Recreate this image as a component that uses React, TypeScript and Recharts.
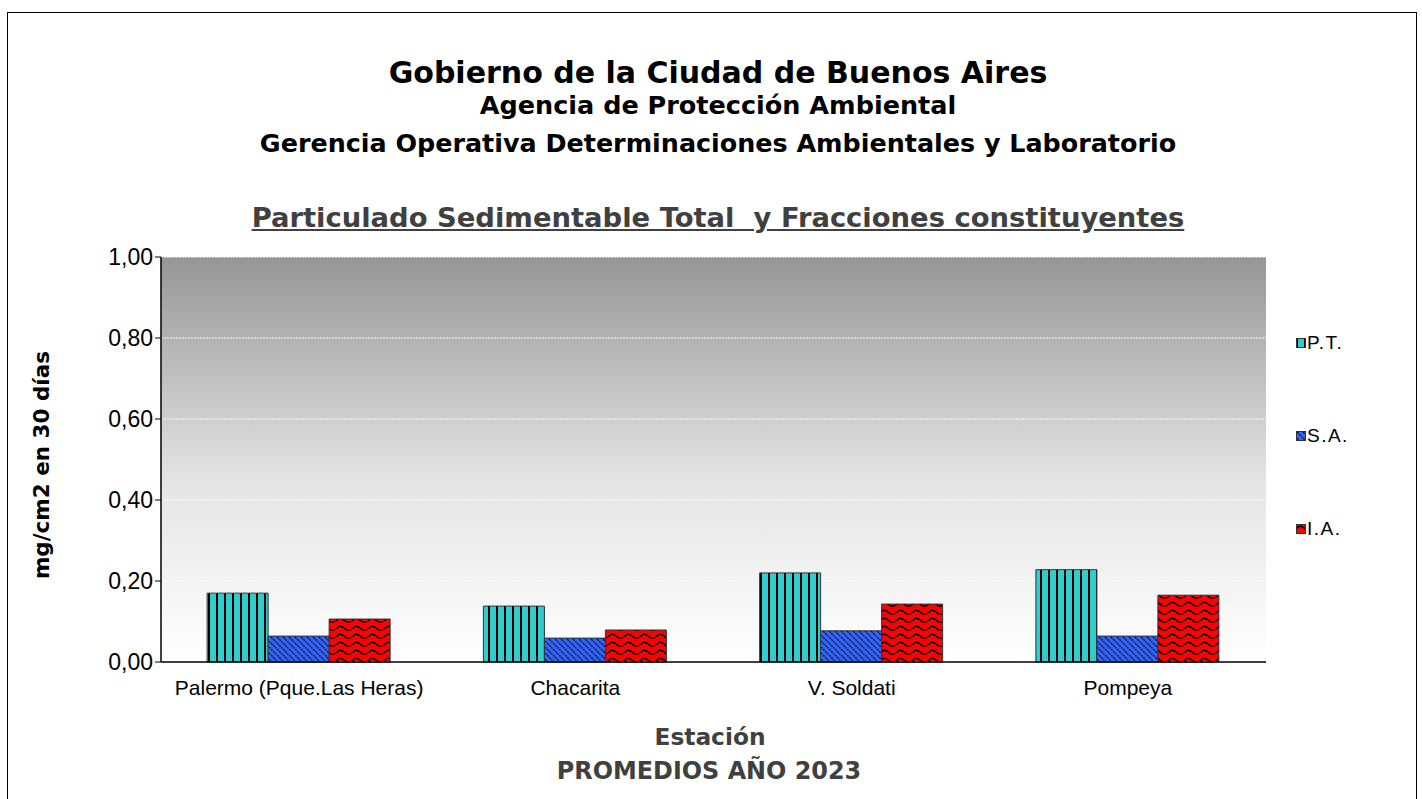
import { Bar, BarChart, CartesianGrid, XAxis, YAxis } from "recharts"

const estaciones = ["Palermo (Pque.Las Heras)", "Chacarita", "V. Soldati", "Pompeya"]
const pt = [0.17, 0.138, 0.22, 0.228]
const sa = [0.064, 0.059, 0.077, 0.064]
const ia = [0.106, 0.079, 0.143, 0.165]
const yTicks = [0, 0.2, 0.4, 0.6, 0.8, 1.0]
const series = [
  { key: "pt", label: "P.T.", fill: "url(#patPT)" },
  { key: "sa", label: "S.A.", fill: "url(#patSA)" },
  { key: "ia", label: "I.A.", fill: "url(#patIA)" },
]

const data = estaciones.map((name, i) => ({ name, pt: pt[i], sa: sa[i], ia: ia[i] }))

const font = "'Liberation Sans', Arial, sans-serif"
const titleFont = "'DejaVu Sans', Verdana, sans-serif"
const fmt = (v: number) => v.toFixed(2).replace(".", ",")

// title lines: text, centre y, size, colour
const titles = [
  { text: "Gobierno de la Ciudad de Buenos Aires", y: 73, size: 30, color: "#000", cx: 718 },
  { text: "Agencia de Protección Ambiental", y: 105, size: 25.5, color: "#000", cx: 718 },
  { text: "Gerencia Operativa Determinaciones Ambientales y Laboratorio", y: 143, size: 25.4, color: "#000", cx: 718 },
  { text: "Particulado Sedimentable Total\u00a0 y Fracciones constituyentes", y: 218, size: 27.4, color: "#404040", cx: 718, underline: true },
  { text: "Estación", y: 737, size: 23.3, color: "#404040", cx: 710 },
  { text: "PROMEDIOS AÑO 2023", y: 771, size: 23.9, color: "#404040", cx: 709 },
]

function Patterns() {
  return (
    <svg width={0} height={0} style={{ position: "absolute" }}>
      <defs>
        <linearGradient id="bgGrad" x1="0" y1="0" x2="0" y2="1">
          <stop offset="0%" stopColor="#969696" />
          <stop offset="55%" stopColor="#e4e4e4" />
          <stop offset="100%" stopColor="#ffffff" />
        </linearGradient>
        <pattern id="patPT" width={8} height={8} patternUnits="userSpaceOnUse">
          <rect width={8} height={8} fill="#33cccc" />
          <rect x={0} width={2} height={8} fill="#000" />
        </pattern>
        <pattern id="patSA" width={6} height={6} patternUnits="userSpaceOnUse">
          <rect width={6} height={6} fill="#3366ff" />
          <path d="M-1,-1 L7,7 M-1,5 L1,7 M5,-1 L7,1" stroke="#000" strokeWidth={1.3} strokeDasharray="2 1" />
        </pattern>
        <pattern id="patIA" width={16} height={8} patternUnits="userSpaceOnUse">
          <rect width={16} height={8} fill="#ff0000" />
          <path d="M0,5 Q4,0 8,4 T16,5" stroke="#000" strokeWidth={1.4} fill="none" />
        </pattern>
      </defs>
    </svg>
  )
}

export default function App() {
  return (
    <div style={{ position: "absolute", left: 0, top: 0, width: 1422, height: 799, background: "#fff", fontFamily: font, overflow: "hidden" }}>
      <Patterns />
      <div style={{ position: "absolute", left: 7, top: 12, width: 1410, height: 800, border: "1.5px solid #000", boxSizing: "border-box" }} />
      {titles.map((t) => (
        <div
          key={t.text}
          style={{
            position: "absolute",
            left: t.cx - 700,
            width: 1400,
            top: t.y - 20,
            lineHeight: "40px",
            textAlign: "center",
            fontFamily: titleFont,
            fontWeight: "bold",
            fontSize: t.size,
            color: t.color,
            whiteSpace: "nowrap",
            textDecoration: t.underline ? "underline" : "none",
          }}
        >
          {t.text}
        </div>
      ))}
      <div style={{ position: "absolute", left: 0, top: 0 }}>
        <BarChart
          width={1422}
          height={799}
          data={data}
          margin={{ top: 257, left: 91, right: 156, bottom: 107 }}
          barCategoryGap="16.7%"
          barGap={0}
        >
          <CartesianGrid vertical={false} fill="url(#bgGrad)" stroke="#ffffff" strokeDasharray="2 1" fillOpacity={1} />
          <XAxis
            dataKey="name"
            height={30}
            tickLine={false}
            axisLine={{ stroke: "#000", strokeWidth: 1.5 }}
            tick={{ fill: "#000", fontSize: 21, fontFamily: font }}
            tickMargin={12}
            interval={0}
          />
          <YAxis
            width={70}
            domain={[0, 1]}
            ticks={yTicks}
            tickFormatter={fmt}
            axisLine={{ stroke: "#000", strokeWidth: 1.5 }}
            tickLine={{ stroke: "#000" }}
            tickSize={6}
            tick={{ fill: "#000", fontSize: 23, fontFamily: font }}
          />
          {series.map((s) => (
            <Bar key={s.key} dataKey={s.key} fill={s.fill} stroke="#333" strokeWidth={1} isAnimationActive={false} />
          ))}
        </BarChart>
      </div>
      <div
        style={{
          position: "absolute",
          left: 41,
          top: 465,
          transform: "translate(-50%, -50%) rotate(-90deg)",
          whiteSpace: "nowrap",
          fontFamily: titleFont,
          fontWeight: "bold",
          fontSize: 21.5,
          color: "#000",
        }}
      >
        mg/cm2 en 30 días
      </div>
      {series.map((s, i) => (
        <div key={s.key} style={{ position: "absolute", left: 1296, top: 332 + i * 93, display: "flex", alignItems: "center", fontSize: 19, letterSpacing: 1.5, color: "#000" }}>
          <svg width={10} height={10} style={{ marginRight: 1 }}>
            <rect x={0.5} y={0.5} width={9} height={9} fill={s.fill} stroke="#333" />
          </svg>
          {s.label}
        </div>
      ))}
    </div>
  )
}
